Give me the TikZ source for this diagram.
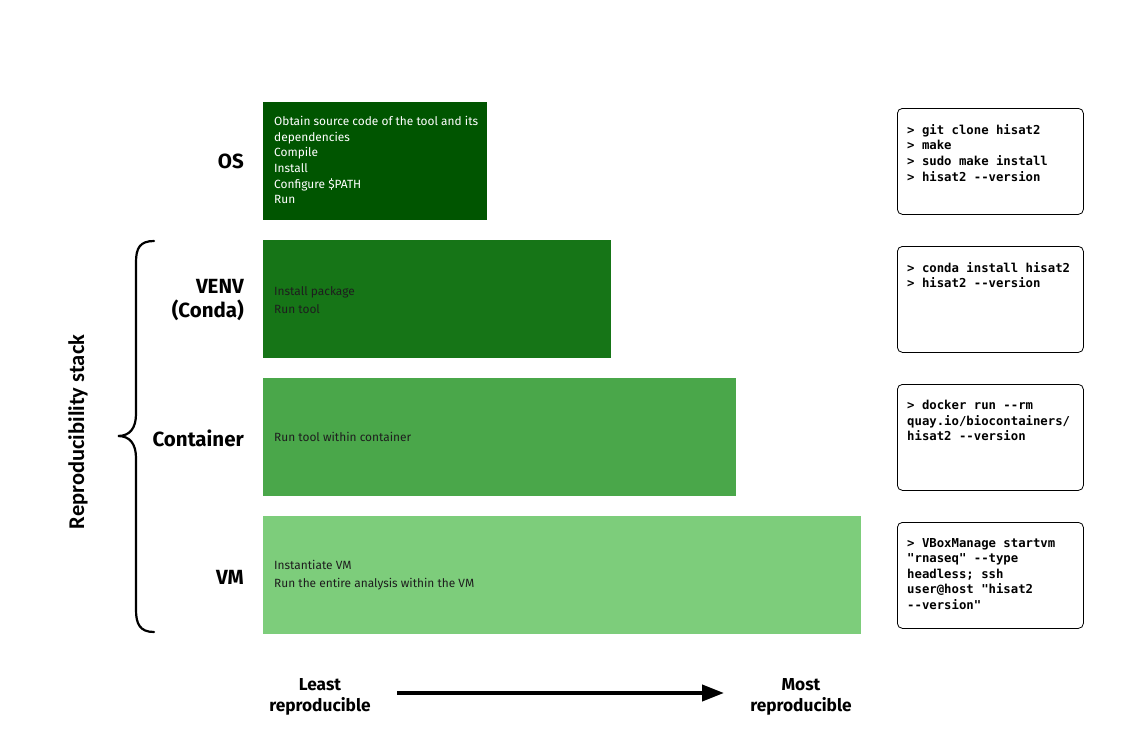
\documentclass[tikz,border=0pt]{standalone}
\usepackage{fontspec}
\setmainfont{Fira Sans}
\newfontfamily\codefont{DejaVu Sans Mono}
\newfontfamily\carfont{Carlito}
\usetikzlibrary{arrows.meta}
\definecolor{osc}{HTML}{005500}
\definecolor{venvc}{HTML}{167517}
\definecolor{contc}{HTML}{4AA74A}
\definecolor{vmc}{HTML}{7DCD7B}
\definecolor{txt}{HTML}{1E1E1E}
\begin{document}
\begin{tikzpicture}[x=1pt,y=-1pt,
  layer/.style={draw=none,anchor=north west,minimum height=118pt,inner sep=0pt,outer sep=0pt},
  layertext/.style={anchor=west,align=left,font=\fontsize{11.9}{15.7}\selectfont,text=txt,inner sep=0pt},
  lab/.style={anchor=east,align=right,font=\fontsize{20.5}{24}\selectfont\bfseries,text=black,inner sep=0pt},
  codebox/.style={draw=black,line width=0.8pt,rounded corners=5pt,anchor=north west,minimum width=186pt,minimum height=106pt,inner sep=0pt},
  codetext/.style={anchor=north west,align=left,font=\fontsize{12.3}{15.6}\selectfont\codefont\bfseries,inner sep=0pt},
  endlab/.style={align=center,font=\fontsize{17.3}{21}\selectfont\bfseries,inner sep=0pt}]
\useasboundingbox (0,0) rectangle (1141,739);
\fill[white] (0,0) rectangle (1141,739);
% layers
\node[layer,fill=osc,minimum width=224pt] (os) at (263,102) {};
\node[layer,fill=venvc,minimum width=348pt] (venv) at (263,240) {};
\node[layer,fill=contc,minimum width=473pt] (cont) at (263,378) {};
\node[layer,fill=vmc,minimum width=598pt] (vm) at (263,516) {};
\node[layertext,text=white] (ost) at (274,160) {Obtain source code of the tool and its\\dependencies\\Compile\\Install\\Configure \$PATH\\Run};
\node[layertext,font=\fontsize{11.9}{18}\selectfont] (venvt) at (274,300) {Install package\\Run tool};
\node[layertext] (contt) at (274,437) {Run tool within container};
\node[layertext,font=\fontsize{11.9}{18}\selectfont] (vmt) at (274,575) {Instantiate VM\\Run the entire analysis within the VM};
% labels
\node[lab] (osl) at (244,161) {OS};
\node[lab] (venvl) at (244,300) {VENV\\(Conda)};
\node[lab] (contl) at (244,438) {Container};
\node[lab] (vml) at (244,577) {VM};
% code boxes
\node[codebox] (c1) at (897,108) {};
\node[codebox] (c2) at (897,246) {};
\node[codebox] (c3) at (897,384) {};
\node[codebox] (c4) at (897,522) {};
\node[codetext] (c1t) at (907,124) {> git clone hisat2\\> make\\> sudo make install\\> hisat2 --version};
\node[codetext] (c2t) at (907,262) {> conda install hisat2\\> hisat2 --version};
\node[codetext] (c3t) at (907,400) {> docker run --rm\\quay.io/biocontainers/\\hisat2 --version};
\node[codetext] (c4t) at (907,538) {> VBoxManage startvm\\"rnaseq" --type\\headless; ssh\\user@host "hisat2\\--version"};
% brace
\coordinate (bt) at (154,241);
\coordinate (bm) at (118,436);
\coordinate (bb) at (154,632);
\draw[line width=2.2pt,line cap=round] (bt) .. controls (140,241) and (136,248) .. (136,262) -- (136,414) .. controls (136,428) and (130,436) .. (bm)
  .. controls (130,436) and (136,444) .. (136,458) -- (136,610) .. controls (136,624) and (140,632) .. (bb);
\node[rotate=90,font=\fontsize{22.5}{26}\selectfont\carfont\bfseries,inner sep=0pt] (rs) at (78,432) {Reproducibility stack};
% bottom arrow
\node[endlab] (least) at (320,697) {Least\\reproducible};
\node[endlab] (most) at (801,697) {Most\\reproducible};
\coordinate (a1) at (397,693);
\coordinate (a2) at (724,693);
\draw[line width=4pt,-{Triangle[length=22pt,width=16pt]}] (a1) -- (a2);
\end{tikzpicture}
\end{document}
